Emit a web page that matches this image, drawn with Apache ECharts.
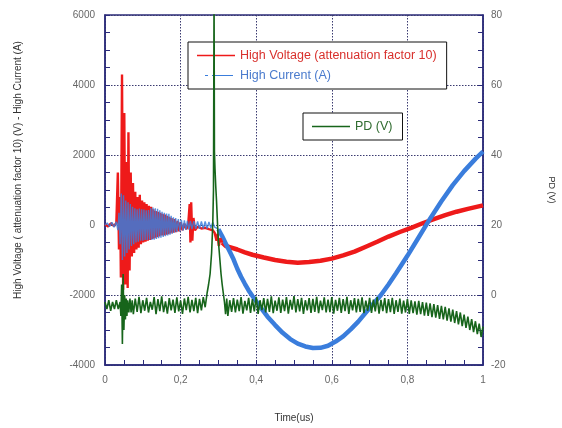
<!DOCTYPE html>
<html>
<head>
<meta charset="utf-8">
<script src="https://cdn.jsdelivr.net/npm/echarts@6/dist/echarts.min.js"></script>
<style>
html,body{margin:0;padding:0;background:#fff;}
#c{width:562px;height:428px;}
</style>
</head>
<body>
<div id="c"></div>
<script>
// ---- Data ----
const xTicks = [0, 0.2, 0.4, 0.6, 0.8, 1];
const leftTicks = [-4000, -2000, 0, 2000, 4000, 6000];
const rightTicks = [-20, 0, 20, 40, 60, 80];

const hvName = 'High Voltage (attenuation factor 10)';
const hcName = 'High Current (A)';
const pdName = 'PD (V)';
const leftTitle = 'High Voltage ( attenuation factor 10) (V) - High Current (A)';

// High Voltage (V/10), [time us, value] — oscillating part
const hvOsc = [
[0,20],[0.008,-40],[0.016,50],[0.024,-30],[0.030,60],[0.034,1500],[0.037,-700],[0.040,800],[0.042,-1500],
[0.045,4300],[0.048,-1850],[0.051,3200],[0.054,-1700],[0.057,1800],[0.060,-1800],[0.062,2650],[0.065,-1300],
[0.068,1500],[0.071,-900],[0.074,1200],[0.077,-800],[0.080,950],[0.083,-700],[0.086,800],[0.089,-650],
[0.092,860],[0.095,-550],[0.098,700],[0.101,-500],[0.104,650],[0.107,-480],[0.110,600],[0.113,-450],
[0.116,550],[0.119,-430],[0.122,520],[0.125,-400],[0.128,450],[0.131,-380],[0.134,400],[0.137,-350],
[0.140,380],[0.143,-330],[0.146,350],[0.149,-300],[0.152,320],[0.155,-300],[0.158,300],[0.161,-280],
[0.164,260],[0.167,-260],[0.170,230],[0.173,-240],[0.176,200],[0.180,-220],[0.184,170],[0.188,-200],
[0.192,120],[0.196,-180],[0.200,80],[0.205,-150],[0.210,40],[0.215,-120],[0.220,0],[0.224,600],
[0.226,-500],[0.228,650],[0.231,-450],[0.234,200],[0.238,-150],[0.245,-50],[0.255,-100],[0.265,-80],
[0.275,-120],[0.285,-150],[0.290,-220],[0.295,-450],[0.298,-250],[0.301,-600],[0.305,-380],[0.31,-500]
];
// High Voltage — slow part
const hvSlow = [
[0.31,-500],[0.32,-600],[0.33,-630],[0.35,-700],[0.37,-780],[0.39,-850],[0.42,-930],[0.45,-1000],[0.48,-1050],
[0.51,-1080],[0.54,-1060],[0.57,-1020],[0.60,-960],[0.63,-870],[0.66,-760],[0.69,-620],[0.72,-480],
[0.75,-330],[0.78,-200],[0.81,-80],[0.84,50],[0.87,170],[0.90,280],[0.93,380],[0.96,460],[1.0,560]
];

// High Current (A), [time us, value] — oscillating part
const hcOsc = [
[0,0],[0.006,60],[0.012,-50],[0.018,80],[0.024,-60],[0.030,90],[0.034,-150],[0.037,350],[0.040,-550],
[0.043,900],[0.046,-1000],[0.049,850],[0.052,-900],[0.055,700],[0.058,-800],[0.061,650],[0.064,-700],
[0.067,600],[0.070,-600],[0.073,520],[0.076,-550],[0.079,480],[0.082,-500],[0.085,450],[0.088,-480],
[0.091,470],[0.094,-450],[0.097,450],[0.100,-450],[0.103,440],[0.106,-430],[0.109,420],[0.112,-430],
[0.115,430],[0.118,-420],[0.121,480],[0.124,-430],[0.127,500],[0.130,-420],[0.133,480],[0.136,-400],
[0.139,460],[0.142,-380],[0.145,420],[0.148,-360],[0.151,380],[0.154,-340],[0.157,350],[0.160,-320],
[0.163,330],[0.166,-300],[0.169,320],[0.172,-280],[0.175,260],[0.178,-250],[0.181,220],[0.184,-220],
[0.187,200],[0.190,-200],[0.194,170],[0.198,-180],[0.202,150],[0.206,-160],[0.210,130],[0.214,-140],
[0.218,120],[0.222,-130],[0.226,120],[0.230,-120],[0.235,110],[0.240,-110],[0.245,100],[0.250,-110],
[0.255,100],[0.260,-100],[0.265,100],[0.270,-100],[0.275,90],[0.280,-90],[0.285,80],[0.290,-60],[0.30,-120]
];
// High Current — slow part
const hcSlow = [
[0.30,-120],[0.31,-320],[0.32,-540],[0.33,-760],[0.34,-980],[0.35,-1250],[0.36,-1480],[0.37,-1680],
[0.38,-1870],[0.39,-2030],[0.41,-2330],[0.43,-2620],[0.45,-2860],[0.47,-3080],[0.49,-3260],[0.51,-3390],
[0.53,-3470],[0.55,-3515],[0.57,-3510],[0.59,-3450],[0.61,-3330],[0.63,-3180],[0.65,-2980],[0.67,-2760],
[0.69,-2500],[0.71,-2250],[0.73,-2000],[0.75,-1700],[0.77,-1380],[0.80,-880],[0.83,-350],[0.86,180],
[0.89,680],[0.92,1140],[0.95,1540],[0.98,1890],[1.0,2100]
];

// PD (V), [time us, value] (right axis)
const pdData = [
[0.000,-2],[0.005,-4],[0.010,-1.5],[0.015,-4.5],[0.020,-2],[0.025,-4],[0.030,-1.5],[0.035,-4],[0.040,-2],
[0.042,-6],[0.044,3],[0.046,-14],[0.048,6],[0.050,-10],[0.052,0],[0.054,-7],[0.056,-1],[0.058,-6],
[0.060,-1.5],[0.063,-5],[0.066,-1],[0.069,-5],[0.072,-1.5],[0.075,-5.5],
[0.080,-1.0],[0.085,-4.8],[0.090,-0.5],[0.095,-5.2],[0.100,-1.5],[0.105,-4.5],[0.110,-0.8],[0.115,-5.0],
[0.120,-2.0],[0.125,-4.2],[0.130,-0.6],[0.135,-5.5],[0.140,-1.2],[0.145,-4.6],[0.150,-0.4],[0.155,-4.9],
[0.160,-1.8],[0.165,-5.3],[0.170,-0.9],[0.175,-4.4],[0.180,-1.3],[0.185,-5.1],[0.190,-0.7],[0.195,-4.7],
[0.200,-1.6],[0.205,-5.4],[0.210,-1.0],[0.215,-4.3],[0.220,-0.5],[0.225,-5.0],[0.230,-1.4],[0.235,-4.6],
[0.240,-0.8],[0.245,-5.2],[0.250,-1.1],[0.255,-4.4],[0.260,-0.6],[0.265,-3.5],
[0.270,0.5],[0.274,3],[0.278,6],[0.282,12],[0.285,20],[0.287,30],[0.2885,86],[0.2895,41],[0.291,36],
[0.293,31],[0.295,27],[0.297,22],[0.299,17],[0.301,14],[0.304,10],[0.307,6],[0.310,3],[0.313,0.5],
[0.316,-2],[0.319,-5.5],[0.322,-1],[0.325,-6],[0.330,-1.5],
[0.335,-4.8],[0.340,-0.9],[0.345,-5.0],[0.350,-1.3],[0.355,-4.6],[0.360,-0.6],[0.365,-5.3],[0.370,-1.7],
[0.375,-4.4],[0.380,-0.8],[0.385,-5.1],[0.390,-1.2],[0.395,-4.7],[0.400,-0.5],[0.405,-5.4],[0.410,-1.5],
[0.415,-4.3],[0.420,-0.9],[0.425,-5.0],[0.430,-1.1],[0.435,-4.8],[0.440,-0.4],[0.445,-5.2],[0.450,-1.6],
[0.455,-4.5],[0.460,-0.7],[0.465,-5.1],[0.470,-1.3],[0.475,-4.6],[0.480,-0.6],[0.485,-5.3],[0.490,-1.4],
[0.495,-4.2],[0.500,-0.3],[0.505,-5.0],[0.510,-1.2],[0.515,-4.7],[0.520,-0.8],[0.525,-5.4],[0.530,-1.5],
[0.535,-4.4],[0.540,-0.9],[0.545,-5.1],[0.550,-1.1],[0.555,-4.8],[0.560,-0.5],[0.565,-5.2],[0.570,-1.6],
[0.575,-4.3],[0.580,-0.7],[0.585,-5.0],[0.590,-1.3],[0.595,-4.9],[0.600,-0.6],[0.605,-5.3],[0.610,-1.4],
[0.615,-4.5],[0.620,-0.8],[0.625,-5.1],[0.630,-1.2],[0.635,-4.6],[0.640,-0.5],[0.645,-5.4],[0.650,-1.5],
[0.655,-4.4],[0.660,-0.9],[0.665,-5.0],[0.670,-1.1],[0.675,-4.8],[0.680,-0.7],[0.685,-5.2],[0.690,-1.6],
[0.695,-4.5],[0.700,-0.8],[0.705,-5.1],[0.710,-1.3],[0.715,-4.7],[0.720,-0.6],[0.725,-5.3],[0.730,-1.4],
[0.735,-4.6],[0.740,-0.9],[0.745,-5.2],[0.750,-1.2],[0.755,-4.9],[0.760,-0.8],[0.765,-5.4],[0.770,-1.5],
[0.775,-4.8],[0.780,-1.0],[0.785,-5.3],[0.790,-1.6],[0.795,-5.0],[0.800,-1.2],
[0.805,-5.4],[0.810,-1.5],[0.815,-5.2],[0.820,-1.8],[0.825,-5.6],[0.830,-1.7],[0.835,-5.5],[0.840,-2.0],
[0.845,-5.9],[0.850,-2.2],[0.855,-6.0],[0.860,-2.4],[0.865,-6.3],[0.870,-2.6],[0.875,-6.5],[0.880,-2.9],
[0.885,-6.8],[0.890,-3.1],[0.895,-7.0],[0.900,-3.4],[0.905,-7.3],[0.910,-3.8],[0.915,-7.6],[0.920,-4.2],
[0.925,-8.0],[0.930,-4.6],[0.935,-8.4],[0.940,-5.0],[0.945,-8.9],[0.950,-5.6],[0.955,-9.4],[0.960,-6.2],
[0.965,-10.0],[0.970,-6.9],[0.975,-10.6],[0.980,-7.5],[0.985,-11.2],[0.990,-8.2],[0.995,-12.0],[1.000,-9.0]
];

// ---- Style ----
const axisColor = '#2b2b7a';
const labelColor = '#666';
const font = 'Liberation Sans, Arial, sans-serif';
const redC = '#ee1a1a', blueC = '#3a7ddc', greenC = '#17651b';

const chart = echarts.init(document.getElementById('c'), null, {renderer: 'canvas'});
const tickOpts = {show: true, inside: true, length: 5, lineStyle: {color: axisColor, width: 1}};
const minorOpts = {show: true, splitNumber: 4, length: 5, lineStyle: {color: axisColor, width: 1}};
const gridLine = {show: true, lineStyle: {color: '#3a3a70', type: [1.5, 1.5], width: 1}};

chart.setOption({
  animation: false,
  backgroundColor: '#fff',
  grid: {left: 105, right: 79, top: 15, bottom: 63, containLabel: false, outerBoundsMode: 'none',
    show: true, borderColor: axisColor, borderWidth: 1.5, backgroundColor: 'transparent'},
  graphic: [{
    type: 'text', x: 18, y: 170, rotation: Math.PI / 2,
    style: {text: leftTitle, fill: '#333', font: '10px ' + font, align: 'center', verticalAlign: 'middle'}
  }],
  legend: [
    {
      data: [
        {name: hvName, textStyle: {color: '#d8302c'}, icon: 'rect'},
        {name: hcName, textStyle: {color: '#4a7bcd'}, icon: 'path://M0 0H0.01V1H0Z M8 0H11V1H8Z M15 0H36V1H15Z M37.99 0H38V1H37.99Z'}
      ],
      orient: 'vertical', left: 188, top: 42,
      itemWidth: 38, itemHeight: 1.5, itemGap: 7,
      backgroundColor: '#fff', borderColor: '#111', borderWidth: 1,
      padding: [7, 10, 7, 9],
      selectedMode: false,
      textStyle: {fontSize: 12.5, fontFamily: font}
    },
    {
      data: [{name: pdName, textStyle: {color: '#2f6b2f'}, icon: 'rect'}],
      orient: 'vertical', left: 303, top: 113,
      itemWidth: 38, itemHeight: 1.5,
      backgroundColor: '#fff', borderColor: '#111', borderWidth: 1,
      padding: [7, 10, 7, 9],
      selectedMode: false,
      textStyle: {fontSize: 12.5, fontFamily: font}
    }
  ],
  xAxis: {
    type: 'value', min: xTicks[0], max: xTicks[xTicks.length - 1], interval: 0.2,
    name: 'Time(us)', nameLocation: 'middle', nameGap: 48,
    nameTextStyle: {color: '#333', fontSize: 10, fontFamily: font},
    axisLine: {show: true, onZero: false, lineStyle: {color: axisColor, width: 1.5}},
    axisTick: tickOpts, minorTick: minorOpts, splitLine: gridLine,
    axisLabel: {color: labelColor, fontSize: 10, fontFamily: font, margin: 10,
      formatter: v => String(Math.round(v * 10) / 10).replace('.', ',')}
  },
  yAxis: [
    {
      type: 'value', min: leftTicks[0], max: leftTicks[leftTicks.length - 1], interval: 2000,
      axisLine: {show: true, onZero: false, lineStyle: {color: axisColor, width: 1.5}},
      axisTick: tickOpts, minorTick: minorOpts, splitLine: gridLine,
      axisLabel: {color: labelColor, fontSize: 10, fontFamily: font, margin: 10, formatter: v => String(v)}
    },
    {
      type: 'value', position: 'right', min: rightTicks[0], max: rightTicks[rightTicks.length - 1], interval: 20,
      name: 'PD (V)', nameLocation: 'middle', nameGap: 64, nameRotate: -90,
      nameTextStyle: {color: '#333', fontSize: 9, fontFamily: font, padding: [0, 0, 0, 0]},
      axisLine: {show: true, onZero: false, lineStyle: {color: axisColor, width: 1.5}},
      axisTick: tickOpts, minorTick: minorOpts,
      splitLine: {show: false},
      axisLabel: {color: labelColor, fontSize: 10, fontFamily: font, margin: 8, formatter: v => String(v)}
    }
  ],
  series: [
    {name: hvName, type: 'line', data: hvSlow, yAxisIndex: 0, showSymbol: false, symbol: 'none',
      lineStyle: {color: redC, width: 4.5}, itemStyle: {color: redC}, z: 2},
    {name: hcName, type: 'line', data: hcSlow, yAxisIndex: 0, showSymbol: false, symbol: 'none',
      lineStyle: {color: blueC, width: 4.5}, itemStyle: {color: blueC}, z: 3},
    {name: hvName, type: 'line', data: hvOsc, yAxisIndex: 0, showSymbol: false, symbol: 'none',
      lineStyle: {color: redC, width: 2.4}, itemStyle: {color: redC}, z: 3},
    {name: hcName, type: 'line', data: hcOsc, yAxisIndex: 0, showSymbol: false, symbol: 'none',
      lineStyle: {color: blueC, width: 1.4, opacity: 0.85}, itemStyle: {color: blueC}, z: 3},
    {name: pdName, type: 'line', data: pdData, yAxisIndex: 1, showSymbol: false, symbol: 'none',
      lineStyle: {color: greenC, width: 1.6}, itemStyle: {color: greenC}, z: 4}
  ]
});
</script>
</body>
</html>
